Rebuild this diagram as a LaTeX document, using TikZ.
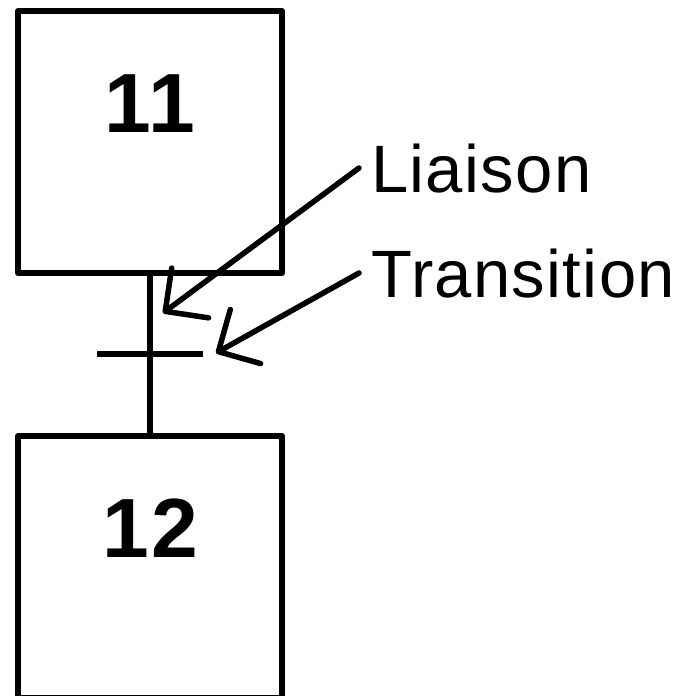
\documentclass[tikz,border=0pt]{standalone}
\usepackage{fontspec}
\setmainfont{Liberation Sans}
\usetikzlibrary{arrows.meta,positioning}

\begin{document}
\begin{tikzpicture}[x=1pt,y=-1pt]
\tikzstyle{etape}=[rectangle, draw, line width=6pt, line join=round,
    minimum width=264pt, minimum height=262pt, inner sep=0pt,
    text height=60pt, text depth=80pt,
    font=\fontsize{84}{84}\selectfont\bfseries\addfontfeature{LetterSpace=3}]
\tikzstyle{texte}=[inner xsep=12pt, inner ysep=0pt, text height=48pt,
    text depth=0pt, font=\fontsize{67}{67}\selectfont\addfontfeature{LetterSpace=2}]
\tikzstyle{fleche}=[line width=5.5pt, line cap=round,
    -{Straight Barb[length=31pt,width=62pt,round]}]
\useasboundingbox (0,0) rectangle (686,696);

    \node[etape] (e11) at (150,142) {11};
    \node[etape] (e12) at (150,567) {12};
    \node[fill, minimum width=106pt, minimum height=6pt,
    inner sep=0pt] (t11) at (150,354) {};

\draw[line width=6pt] (e11.south) -- (e12.north);

\node[texte, anchor=west] (liaison) at (359,168) {Liaison};
\node[texte, anchor=west] (transition) at (359,273) {Transition};

\coordinate (pL) at (163,313);
\coordinate (pT) at (216,353);
\draw[fleche] (liaison.west) -- (pL);
\draw[fleche] (transition.west) -- (pT);
\end{tikzpicture}
\end{document}
